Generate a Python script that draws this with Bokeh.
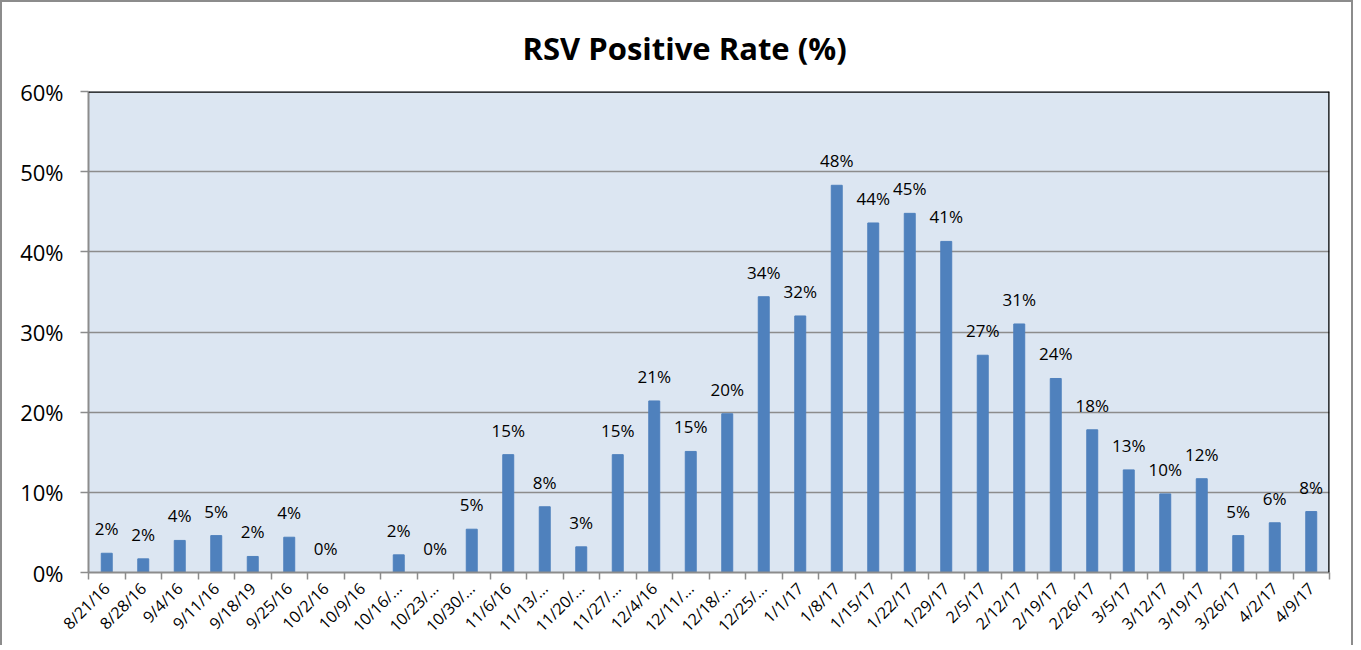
import math
from bokeh.plotting import figure
from bokeh.models import ColumnDataSource, FixedTicker, Range1d, Span, PrintfTickFormatter
from bokeh.core.properties import value
from bokeh.embed import file_html
from bokeh.resources import INLINE

weeks = ["8/21/16", "8/28/16", "9/4/16", "9/11/16", "9/18/19", "9/25/16", "10/2/16", "10/9/16",
         "10/16/...", "10/23/...", "10/30/...", "11/6/16", "11/13/...", "11/20/...", "11/27/...",
         "12/4/16", "12/11/...", "12/18/...", "12/25/...", "1/1/17", "1/8/17", "1/15/17", "1/22/17",
         "1/29/17", "2/5/17", "2/12/17", "2/19/17", "2/26/17", "3/5/17", "3/12/17", "3/19/17",
         "3/26/17", "4/2/17", "4/9/17"]
rsv_rate = [2.4, 1.7, 4.0, 4.6, 2.0, 4.4, 0.0, None,
            2.2, 0.0, 5.4, 14.7, 8.2, 3.2, 14.7,
            21.4, 15.1, 19.8, 34.4, 32.0, 48.3, 43.6, 44.8,
            41.3, 27.1, 31.0, 24.2, 17.8, 12.8, 9.8, 11.7,
            4.6, 6.2, 7.6]
y_ticks = [0, 10, 20, 30, 40, 50, 60]

n = len(weeks)
xs = [i + 0.5 for i in range(n)]
bx = [x for x, v in zip(xs, rsv_rate) if v is not None]
bv = [v for v in rsv_rate if v is not None]
blab = ["%d%%" % int(math.floor(v + 0.5)) for v in bv]
src = ColumnDataSource(dict(x=bx, top=bv, lab=blab))

FONT = "Open Sans"
W, H = 1353, 645
p = figure(width=W, height=H, output_backend="svg", toolbar_location=None,
           x_range=Range1d(0, n), y_range=Range1d(0, 60),
           title="RSV Positive Rate (%)",
           min_border_left=86, min_border_right=W - 1327, min_border_top=89, min_border_bottom=H - 573,
           background_fill_color="#dce6f2", border_fill_color="white",
           outline_line_color=None)
p.styles = {"border-top": "2px solid #8c8c8c", "border-left": "2px solid #8c8c8c",
            "border-right": "2px solid #8c8c8c"}
p.title.align = "left"
p.title.text_font = FONT
p.title.text_font_size = "31px"
p.title.text_font_style = "bold"
p.title.text_color = "black"
p.title.offset = 434
p.title.standoff = 45

p.vbar(x="x", top="top", width=0.3, source=src, fill_color="#4f81bd", line_color="#4f81bd")
p.text(x="x", y="top", text="lab", source=src, text_align="center", text_baseline="bottom",
       y_offset=-13, text_font=value(FONT), text_font_size="17px", text_color="black")

# grid
p.xgrid.visible = False
p.ygrid.ticker = FixedTicker(ticks=y_ticks)
p.ygrid.grid_line_color = "#8c8c8c"
p.ygrid.grid_line_width = 1.5

# y axis
p.yaxis.ticker = FixedTicker(ticks=y_ticks)
p.yaxis.formatter = PrintfTickFormatter(format="%d%%")
p.yaxis.major_label_text_font = FONT
p.yaxis.major_label_text_font_size = "22px"
p.yaxis.major_label_text_color = "black"
p.yaxis.major_label_standoff = 17
p.yaxis.axis_line_color = "#8c8c8c"
p.yaxis.axis_line_width = 2
p.yaxis.major_tick_line_color = "#8c8c8c"
p.yaxis.major_tick_line_width = 1.5
p.yaxis.major_tick_out = 8
p.yaxis.major_tick_in = 0
p.yaxis.minor_tick_line_color = None

# x axis
p.xaxis.ticker = FixedTicker(ticks=xs, minor_ticks=list(range(n + 1)))
p.xaxis.major_label_overrides = {x: w for x, w in zip(xs, weeks)}
p.xaxis.major_label_orientation = math.pi / 4
p.xaxis.major_label_text_font = FONT
p.xaxis.major_label_text_font_size = "16px"
p.xaxis.major_label_text_color = "black"
p.xaxis.major_label_standoff = 6
p.xaxis.major_tick_line_color = None
p.xaxis.minor_tick_line_color = "#8c8c8c"
p.xaxis.minor_tick_line_width = 1.5
p.xaxis.minor_tick_out = 7
p.xaxis.minor_tick_in = 0
p.xaxis.axis_line_color = "#8c8c8c"
p.xaxis.axis_line_width = 2

p.add_layout(Span(location=60, dimension="width", line_color="black", line_width=2.5))
p.add_layout(Span(location=n, dimension="height", line_color="black", line_width=2.5))

open("out.html", "w").write(file_html(p, INLINE))
